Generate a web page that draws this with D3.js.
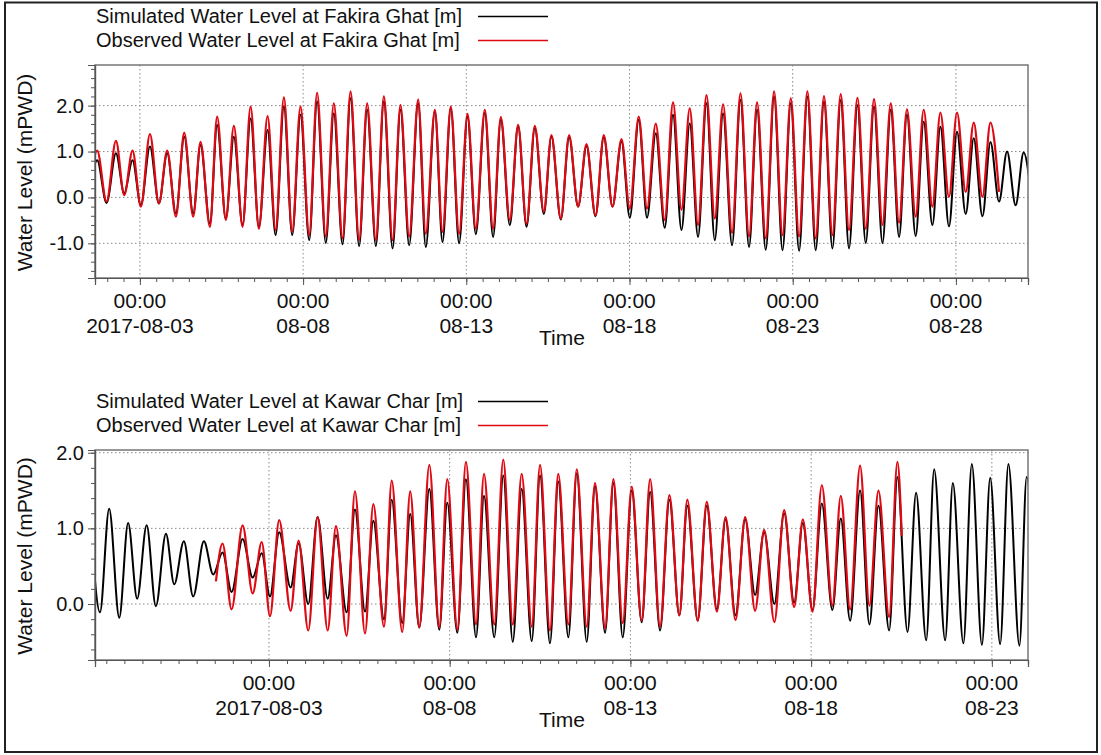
<!DOCTYPE html>
<html>
<head>
<meta charset="utf-8">
<script src="https://cdn.jsdelivr.net/npm/d3@7"></script>
<style>
  html, body { margin: 0; padding: 0; background: #fff; }
  svg { display: block; font-family: "Liberation Sans", Arial, Helvetica, sans-serif; }
</style>
</head>
<body>
<svg id="chart" width="1101" height="755"></svg>
<script>
// Tidal high/low water extrema, times in hours after 2017-08-01 00:00.

// Fakira Ghat
const fakiraHours = [
  10.4, 16.6, 23.5, 30.4, 36.5, 42.6, 48.7, 55.4, 62.0, 68.1,
  74.5, 80.6, 87.2, 92.6, 99.5, 104.8, 111.2, 117.1, 123.5, 129.4,
  135.5, 141.9, 147.8, 153.9, 160.0, 166.1, 172.5, 178.3, 184.7, 190.6,
  197.0, 202.9, 209.2, 215.1, 221.5, 227.4, 233.8, 239.6, 246.0, 252.6,
  258.2, 264.9, 270.5, 276.6, 282.7, 288.9, 295.0, 301.6, 307.7, 313.4,
  320.0, 326.1, 332.3, 338.4, 345.0, 350.6, 357.5, 363.6, 370.2, 376.4,
  383.0, 389.1, 395.5, 402.1, 408.2, 414.8, 420.9, 427.3, 433.9, 440.0,
  446.2, 452.3, 458.4, 464.6, 470.7, 476.8, 483.4, 489.6, 495.9, 501.8,
  508.2, 514.3, 520.5, 526.6, 532.7, 538.8, 544.9, 551.0, 557.2, 563.3,
  569.4, 575.6, 581.7, 587.8, 594.0, 600.1, 606.2, 612.0, 618.4, 624.3,
  630.7, 636.6, 642.9, 648.8, 655.2, 661.1, 667.5, 673.4, 679.7, 685.6,
  691.9, 697.8, 704.0
];
const fakiraSim = [
  -0.10, 0.81, -0.12, 0.96, 0.09, 0.81, -0.17, 1.11, -0.13, 0.96,
  -0.35, 1.32, -0.35, 1.14, -0.57, 1.58, -0.46, 1.32, -0.60, 1.72,
  -0.64, 1.47, -0.82, 1.98, -0.82, 1.80, -0.93, 2.09, -0.99, 1.83,
  -1.02, 2.16, -1.06, 1.91, -1.06, 2.09, -1.11, 1.91, -1.04, 2.05,
  -1.08, 1.87, -0.97, 1.94, -1.00, 1.76, -0.80, 1.84, -0.86, 1.69,
  -0.60, 1.55, -0.64, 1.51, -0.36, 1.33, -0.48, 1.31, -0.20, 1.12,
  -0.41, 1.31, -0.20, 1.22, -0.44, 1.69, -0.44, 1.40, -0.66, 1.80,
  -0.71, 1.61, -0.86, 2.05, -0.93, 1.83, -1.04, 2.12, -1.08, 1.91,
  -1.14, 2.20, -1.15, 2.05, -1.16, 2.20, -1.15, 2.09, -1.11, 2.12,
  -1.11, 2.01, -0.99, 1.98, -0.99, 1.91, -0.86, 1.80, -0.84, 1.65,
  -0.60, 1.54, -0.63, 1.43, -0.36, 1.29, -0.41, 1.21, -0.09, 1.00,
  -0.17, 0.98, -0.15
];
const fakiraObs = [
  -0.10, 1.02, -0.09, 1.23, 0.05, 1.02, -0.20, 1.38, -0.13, 1.02,
  -0.42, 1.41, -0.42, 1.21, -0.64, 1.76, -0.49, 1.56, -0.64, 1.98,
  -0.68, 1.77, -0.71, 2.18, -0.75, 1.98, -0.82, 2.28, -0.85, 2.05,
  -0.89, 2.31, -0.93, 2.05, -0.93, 2.20, -0.93, 2.01, -0.85, 2.13,
  -0.79, 1.91, -0.75, 1.98, -0.79, 1.82, -0.68, 1.91, -0.68, 1.75,
  -0.49, 1.58, -0.57, 1.56, -0.31, 1.36, -0.46, 1.36, -0.20, 1.16,
  -0.39, 1.36, -0.20, 1.27, -0.24, 1.76, -0.24, 1.61, -0.49, 2.07,
  -0.27, 1.94, -0.60, 2.23, -0.46, 2.03, -0.77, 2.27, -0.85, 2.07,
  -0.89, 2.31, -0.82, 2.16, -0.85, 2.31, -0.89, 2.21, -0.82, 2.25,
  -0.71, 2.17, -0.68, 2.14, -0.60, 2.05, -0.55, 1.92, -0.42, 1.91,
  -0.20, 1.85, 0.01, 1.85, 0.12, 1.63, 0.01, 1.63, 0.12, null,
  null, null, null
];

// Kawar Char
const kawarHours = [
  -70.5, -64.2, -58.1, -51.4, -45.5, -39.5, -33.2, -27.1, -20.4, -14.9,
  -8.5, -2.3, 4.8, 11.0, 17.2, 23.2, 30.5, 37.2, 43.2, 48.7,
  54.8, 62.4, 67.7, 74.1, 80.3, 87.0, 92.5, 99.6, 105.1, 111.8,
  117.3, 124.4, 129.5, 136.5, 141.8, 147.8, 154.5, 161.1, 166.4, 173.1,
  178.8, 185.5, 190.8, 197.6, 203.6, 209.9, 215.8, 222.5, 228.0, 234.6,
  240.1, 246.8, 252.4, 259.0, 264.5, 271.2, 276.7, 282.9, 288.9, 295.5,
  301.1, 307.7, 313.9, 320.5, 325.8, 332.7, 338.7, 345.4, 351.2, 357.8,
  364.2, 370.8, 376.8, 383.6, 390.1, 396.7, 402.5, 408.9, 415.1, 422.1,
  427.7, 433.9, 440.5, 446.7, 452.7, 459.8, 465.3, 472.0, 477.7, 484.4,
  489.7, 497.0, 502.1, 509.1, 514.7, 521.4, 526.9, 533.5, 539.0, 546.3,
  551.1, 557.5
];
const kawarSim = [
  1.10, -0.11, 1.26, -0.18, 1.07, 0.07, 1.04, -0.03, 0.93, 0.26,
  0.83, 0.10, 0.83, 0.39, 0.68, 0.16, 0.86, 0.35, 0.67, 0.10,
  0.95, 0.22, 0.80, 0.00, 1.15, 0.07, 0.91, -0.11, 1.25, -0.10,
  1.10, -0.20, 1.38, -0.25, 1.19, -0.31, 1.52, -0.34, 1.34, -0.38,
  1.65, -0.44, 1.43, -0.44, 1.70, -0.50, 1.52, -0.49, 1.70, -0.52,
  1.62, -0.44, 1.73, -0.50, 1.56, -0.38, 1.60, -0.44, 1.50, -0.24,
  1.48, -0.35, 1.38, -0.15, 1.30, -0.22, 1.30, -0.07, 1.12, -0.15,
  1.12, 0.12, 0.95, 0.00, 1.20, 0.02, 1.07, -0.08, 1.33, -0.08,
  1.13, -0.22, 1.50, -0.27, 1.30, -0.35, 1.68, -0.37, 1.47, -0.48,
  1.78, -0.48, 1.60, -0.52, 1.85, -0.54, 1.67, -0.53, 1.85, -0.55,
  1.68, -0.50
];
const kawarObsHours = [
  12.8, 17.2, 23.2, 30.5, 37.2, 43.2, 48.7, 54.8, 62.4, 67.7,
  74.1, 80.3, 87.0, 92.5, 99.6, 105.1, 111.8, 117.3, 124.4, 129.5,
  136.5, 141.8, 147.8, 154.5, 161.1, 166.4, 173.1, 178.8, 185.5, 190.8,
  197.6, 203.6, 209.9, 215.8, 222.5, 228.0, 234.6, 240.1, 246.8, 252.4,
  259.0, 264.5, 271.2, 276.7, 282.9, 288.9, 295.5, 301.1, 307.7, 313.9,
  320.5, 325.8, 332.7, 338.7, 345.4, 351.2, 357.8, 364.2, 370.8, 376.8,
  383.6, 390.1, 396.7, 402.5, 408.9, 415.1, 422.1, 427.7, 433.9, 440.5,
  446.7, 452.7, 459.8, 465.3, 468.2
];
const kawarObs = [
  0.30, 0.80, -0.07, 1.04, 0.14, 0.82, -0.16, 1.11, -0.09, 0.84,
  -0.35, 1.15, -0.35, 1.03, -0.42, 1.49, -0.39, 1.32, -0.30, 1.63,
  -0.37, 1.49, -0.31, 1.84, -0.31, 1.65, -0.34, 1.88, -0.27, 1.72,
  -0.27, 1.91, -0.27, 1.72, -0.30, 1.84, -0.35, 1.72, -0.27, 1.78,
  -0.30, 1.60, -0.32, 1.65, -0.25, 1.55, -0.22, 1.65, -0.30, 1.44,
  -0.15, 1.38, -0.22, 1.35, -0.10, 1.15, -0.21, 1.15, -0.09, 0.98,
  -0.24, 1.24, -0.04, 1.12, -0.10, 1.57, -0.02, 1.43, -0.07, 1.83,
  -0.02, 1.50, -0.17, 1.88, 0.90
];

// Axis ranges and labels
const fakiraRange = ["2017-08-01T15:00Z", "2017-08-30T05:00Z"];
const kawarRange = ["2017-07-29T04:30Z", "2017-08-24T00:00Z"];
const fakiraTickDates = ["2017-08-03", "2017-08-08", "2017-08-13", "2017-08-18", "2017-08-23", "2017-08-28"];
const fakiraTickLabels = ["2017-08-03", "08-08", "08-13", "08-18", "08-23", "08-28"];
const kawarTickDates = ["2017-08-03", "2017-08-08", "2017-08-13", "2017-08-18", "2017-08-23"];
const kawarTickLabels = ["2017-08-03", "08-08", "08-13", "08-18", "08-23"];
const fakiraLevelTicks = [-1, 0, 1, 2];
const kawarLevelTicks = [0, 1, 2];
const fakiraLegend = ["Simulated Water Level at Fakira Ghat [m]", "Observed Water Level at Fakira Ghat [m]"];
const kawarLegend = ["Simulated Water Level at Kawar Char [m]", "Observed Water Level at Kawar Char [m]"];

const BASE = Date.UTC(2017, 7, 1);
const toDate = h => new Date(BASE + h * 3600e3);
const SIM_COLOR = "#000000";
const OBS_COLOR = "#dd0a14";
const FONT = '"Liberation Sans", Arial, Helvetica, sans-serif';

const svg = d3.select("#chart");

// outer frame
svg.append("rect")
  .attr("x", 5).attr("y", 2.5).attr("width", 1092).attr("height", 749.5)
  .attr("fill", "none").attr("stroke", "#222").attr("stroke-width", 2);

function zip(hours, vals) {
  return hours.map((h, i) => ({ t: toDate(h), v: vals[i] }));
}

function drawPanel(p, idx) {
  const { left, right, top, bottom } = p;
  const x = d3.scaleUtc().domain(p.range.map(s => new Date(s))).range([left, right]);
  const y = d3.scaleLinear().domain(p.yDomain).range([bottom, top]);
  const g = svg.append("g");

  // legend
  p.legend.forEach((name, i) => {
    g.append("text")
      .attr("x", 96).attr("y", top - 42 + i * 24)
      .attr("font-size", 20).attr("fill", "#111")
      .text(name);
    g.append("line")
      .attr("x1", 478).attr("x2", 548)
      .attr("y1", top - 48.5 + i * 24).attr("y2", top - 48.5 + i * 24)
      .attr("stroke", i === 0 ? SIM_COLOR : OBS_COLOR).attr("stroke-width", 1.6);
  });

  // gridlines
  const majorDates = p.tickDates.map(s => new Date(s + "T00:00Z"));
  g.append("g").selectAll("line").data(p.levelTicks).join("line")
    .attr("x1", left).attr("x2", right)
    .attr("y1", d => y(d)).attr("y2", d => y(d))
    .attr("stroke", "#8a8a8a").attr("stroke-width", 1).attr("stroke-dasharray", "1.5,2.5");
  g.append("g").selectAll("line").data(majorDates).join("line")
    .attr("x1", d => x(d)).attr("x2", d => x(d))
    .attr("y1", top).attr("y2", bottom)
    .attr("stroke", "#8a8a8a").attr("stroke-width", 1).attr("stroke-dasharray", "1.5,2.5");

  // series
  const clipId = "clip" + idx;
  svg.append("clipPath").attr("id", clipId)
    .append("rect").attr("x", left).attr("y", top).attr("width", right - left).attr("height", bottom - top);
  const line = d3.line()
    .defined(d => d.v != null)
    .x(d => x(d.t)).y(d => y(d.v))
    .curve(d3.curveMonotoneX);
  const plot = g.append("g").attr("clip-path", `url(#${clipId})`);
  plot.append("path").datum(p.sim).attr("d", line)
    .attr("fill", "none").attr("stroke", SIM_COLOR).attr("stroke-width", 2).attr("stroke-linejoin", "round");
  plot.append("path").datum(p.obs).attr("d", line)
    .attr("fill", "none").attr("stroke", OBS_COLOR).attr("stroke-width", 2.2).attr("stroke-linejoin", "round");

  // frame
  g.append("rect")
    .attr("x", left).attr("y", top).attr("width", right - left).attr("height", bottom - top)
    .attr("fill", "none").attr("stroke", "#777").attr("stroke-width", 1.5);

  // y axis: minor + major ticks
  const minorLevels = d3.range(-20, 20).map(i => +(i * 0.2).toFixed(1))
    .filter(v => v >= p.yDomain[0] && v <= p.yDomain[1]);
  const yMinor = g.append("g").attr("transform", `translate(${left},0)`)
    .call(d3.axisLeft(y).tickValues(minorLevels).tickSize(4).tickFormat(""));
  const yMajor = g.append("g").attr("transform", `translate(${left},0)`)
    .call(d3.axisLeft(y).tickValues(p.levelTicks).tickSize(7).tickPadding(4).tickFormat(d => d.toFixed(1)));
  yMajor.selectAll("text").attr("font-size", 20).attr("font-family", FONT).attr("fill", "#111");

  // x axis: 12-hourly minor ticks + major ticks
  const [d0, d1] = x.domain();
  const minorDates = d3.utcHour.every(12).range(d0, d1);
  const xMinor = g.append("g").attr("transform", `translate(0,${bottom})`)
    .call(d3.axisBottom(x).tickValues(minorDates).tickSize(4).tickFormat(""));
  const xMajor = g.append("g").attr("transform", `translate(0,${bottom})`)
    .call(d3.axisBottom(x).tickValues(majorDates).tickSize(7).tickFormat(""));
  [yMinor, yMajor, xMinor, xMajor].forEach(a => {
    a.selectAll(".domain").attr("stroke", "#555").attr("stroke-width", 1.2);
    a.selectAll(".tick line").attr("stroke", "#555");
  });

  // two-line date labels
  const lab = g.append("g").attr("font-size", 21).attr("fill", "#111").attr("text-anchor", "middle");
  majorDates.forEach((d, i) => {
    lab.append("text").attr("x", x(d)).attr("y", bottom + 30).text("00:00");
    lab.append("text").attr("x", x(d)).attr("y", bottom + 54.5).text(p.tickLabels[i]);
  });

  // axis titles
  g.append("text")
    .attr("x", 562).attr("y", bottom + 67)
    .attr("text-anchor", "middle").attr("font-size", 21).attr("fill", "#111")
    .text("Time");
  g.append("text")
    .attr("transform", `translate(32,${(top + bottom) / 2 + 1}) rotate(-90)`)
    .attr("text-anchor", "middle").attr("font-size", 21).attr("fill", "#111")
    .text("Water Level (mPWD)");
}

const panels = [
  {
    left: 95, right: 1028, top: 65, bottom: 278,
    range: fakiraRange, yDomain: [-1.755, 2.885],
    tickDates: fakiraTickDates, tickLabels: fakiraTickLabels,
    levelTicks: fakiraLevelTicks, legend: fakiraLegend,
    sim: zip(fakiraHours, fakiraSim), obs: zip(fakiraHours, fakiraObs)
  },
  {
    left: 95, right: 1028, top: 450, bottom: 660,
    range: kawarRange, yDomain: [-0.74, 2.036],
    tickDates: kawarTickDates, tickLabels: kawarTickLabels,
    levelTicks: kawarLevelTicks, legend: kawarLegend,
    sim: zip(kawarHours, kawarSim), obs: zip(kawarObsHours, kawarObs)
  }
];
panels.forEach(drawPanel);
</script>
</body>
</html>
